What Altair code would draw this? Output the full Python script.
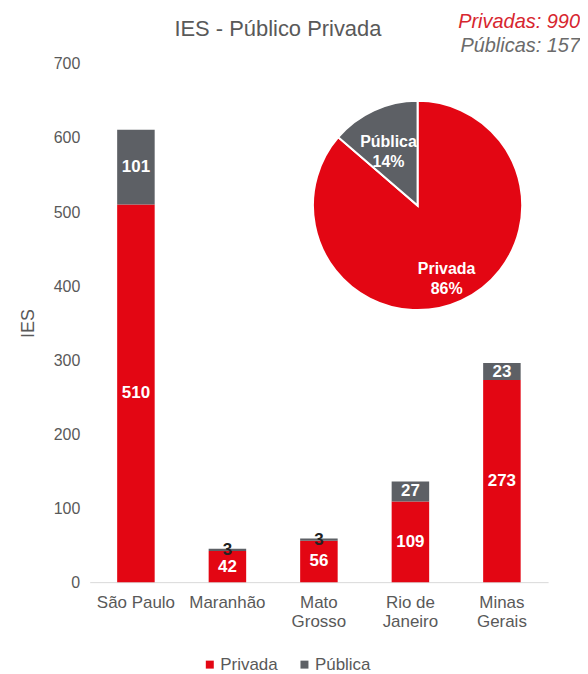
import altair as alt
import pandas as pd

estados = ["São Paulo", "Maranhão", "Mato Grosso", "Rio de Janeiro", "Minas Gerais"]
privada = [510, 42, 56, 109, 273]
publica = [101, 3, 3, 27, 23]

tipos = ["Privada", "Pública"]
pie_valores = [990, 157]
pie_pct = ["86%", "14%"]

resumo_priv = ["Privadas: 990"]
resumo_pub = ["Públicas: 157"]

RED = "#E30613"
GRAY = "#5D6065"
TXT = "#595959"
FONT = "Liberation Sans"

rows = []
for e, pv, pb in zip(estados, privada, publica):
    rows.append({"estado": e, "tipo": "Privada", "valor": pv})
    rows.append({"estado": e, "tipo": "Pública", "valor": pb})
df = pd.DataFrame(rows)

pie_df = pd.DataFrame({"tipo": tipos, "valor": pie_valores, "pct": pie_pct})
pie_df["rotulo"] = pie_df["tipo"] + "\n" + pie_df["pct"]

color = alt.Color(
    "tipo:N",
    scale=alt.Scale(domain=tipos, range=[RED, GRAY]),
    legend=alt.Legend(
        title=None, orient="none", legendX=112, legendY=594, direction="horizontal",
        symbolType="square", symbolSize=64, labelFontSize=17, labelColor=TXT,
        labelFont=FONT, columnPadding=18, labelOffset=2, symbolStrokeWidth=0,
    ),
)

xenc = alt.X(
    "estado:N", sort=estados, title=None,
    scale=alt.Scale(paddingInner=0.59, paddingOuter=0.3),
    axis=alt.Axis(
        labelAngle=0, labelFontSize=17, labelColor=TXT, labelFont=FONT,
        ticks=False, domainColor="#D9D9D9", labelPadding=12, labelLineHeight=20,
        labelExpr="datum.label == 'São Paulo' ? datum.label : (datum.label == 'Rio de Janeiro' ? ['Rio de', 'Janeiro'] : split(datum.label, ' '))",
    ),
)

yscale = alt.Scale(domain=[0, 700])

bars = alt.Chart(df).mark_bar().encode(
    x=xenc,
    y=alt.Y(
        "valor:Q", stack="zero", title="IES",
        scale=yscale,
        axis=alt.Axis(
            values=[0, 100, 200, 300, 400, 500, 600, 700], grid=False, domain=False,
            ticks=False, labelFontSize=16, labelColor=TXT, labelFont=FONT,
            labelPadding=10, titleFontSize=18, titleColor=TXT, titleFont=FONT,
            titleFontWeight="normal", titlePadding=16,
        ),
    ),
    color=color,
    order=alt.Order("tipo:N"),
)

bar_text = alt.Chart(df).transform_stack(
    stack="valor", groupby=["estado"], as_=["y0", "y1"], sort=[alt.SortField("tipo")]
).transform_calculate(
    mid="(datum.y0 + datum.y1) / 2"
).mark_text(fontSize=17, fontWeight="bold", font=FONT).encode(
    x=alt.X("estado:N", sort=estados),
    y=alt.Y("mid:Q", scale=yscale),
    text="valor:Q",
    color=alt.condition("datum.valor < 10", alt.value("#222222"), alt.value("white")),
)

CX, CY = 329, 142

pie = alt.Chart(pie_df).mark_arc(outerRadius=105, stroke="white", strokeWidth=2).encode(
    theta=alt.Theta("valor:Q", stack=True),
    color=alt.Color("tipo:N", scale=alt.Scale(domain=tipos, range=[RED, GRAY])),
    order=alt.Order("tipo:N"),
    x=alt.value(CX),
    y=alt.value(CY),
)

pie_text = alt.Chart(pie_df).mark_text(
    radius=70, fontSize=16, fontWeight="bold", color="white", lineBreak="\n",
    font=FONT, lineHeight=20,
).encode(
    theta=alt.Theta("valor:Q", stack=True),
    order=alt.Order("tipo:N"),
    text="rotulo:N",
    x=alt.value(CX),
    y=alt.value(CY),
)

res1 = alt.Chart(pd.DataFrame({"texto": resumo_priv})).mark_text(
    align="right", fontSize=20, fontStyle="italic", font=FONT,
    baseline="alphabetic", color="#D7262F",
).encode(text="texto:N", x=alt.value(492), y=alt.value(-36))

res2 = alt.Chart(pd.DataFrame({"texto": resumo_pub})).mark_text(
    align="right", fontSize=20, fontStyle="italic", font=FONT,
    baseline="alphabetic", color="#6B6B6B",
).encode(text="texto:N", x=alt.value(492), y=alt.value(-12))

chart = alt.layer(bars, bar_text, pie, pie_text, res1, res2).properties(
    width=460, height=520,
    padding={"left": 11, "top": 3, "right": 0, "bottom": 0},
    title=alt.Title("IES - Público Privada", fontSize=22, fontWeight="normal", color=TXT,
                    font=FONT, anchor="start", frame="group", dx=85, offset=-29),
).configure_view(stroke=None)

chart.save("out.html", embed_options={"renderer": "svg", "actions": False})
